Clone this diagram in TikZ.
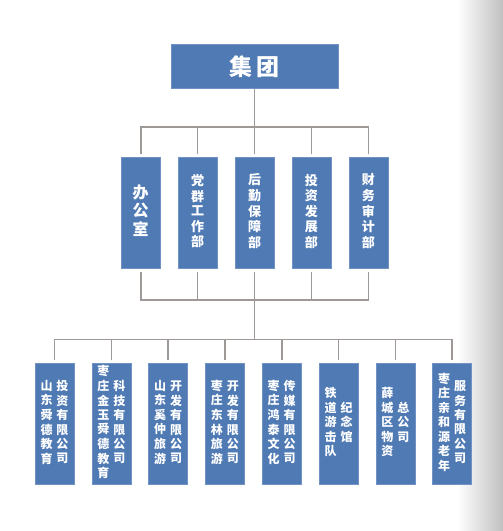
\documentclass[tikz,border=0pt]{standalone}
\usepackage{fontspec}
\newfontfamily\cjk{Noto Sans CJK SC}
\definecolor{boxblue}{HTML}{4F7AB4}
\definecolor{boxedge}{HTML}{7092C4}
\definecolor{linegray}{HTML}{9E9896}
\definecolor{shadowgray}{HTML}{C0C0C0}
\newcommand{\vstk}[1]{\begin{tabular}[c]{@{}c@{}}#1\end{tabular}}
\begin{document}
\begin{tikzpicture}[x=1pt,y=-1pt,
 box/.style={fill=boxblue, draw=boxedge, line width=0.6pt, text=white, inner sep=0pt},
 topbox/.style={box, minimum width=167pt, minimum height=43.5pt, font=\cjk\bfseries\fontsize{23}{26}\selectfont},
 deptbox/.style={box, minimum width=39pt, minimum height=111.5pt, outer ysep=3.5pt, font=\cjk\bfseries\fontsize{13}{14.7}\selectfont},
 cobox/.style={box, minimum width=39pt, minimum height=121pt, outer ysep=3pt, font=\cjk\bfseries\fontsize{12}{14.2}\selectfont},
 conn/.style={draw=linegray, line width=1.6pt}]
\useasboundingbox (0,0) rectangle (503,531);
\fill[white] (0,0) rectangle (503,531);
\shade[left color=white, right color=shadowgray] (457,0) rectangle (503,531);

\node[topbox] (top) at (254.5,66.5) {集\hspace{5pt}团};

\node[deptbox, font=\cjk\bfseries\fontsize{16}{17.5}\selectfont] (d1) at (140.7,212.8) {\vstk{办\\公\\室}};
\node[deptbox] (d2) at (197.6,212.8) {\vstk{党\\群\\工\\作\\部}};
\node[deptbox] (d3) at (254.5,212.8) {\vstk{后\\勤\\保\\障\\部}};
\node[deptbox] (d4) at (311.4,212.8) {\vstk{投\\资\\发\\展\\部}};
\node[deptbox] (d5) at (368.3,212.8) {\vstk{财\\务\\审\\计\\部}};

\node[cobox] (e1) at (54.5,423.8) {\vstk{山\\东\\舜\\德\\教\\育}\hspace{4pt}\vstk{投\\资\\有\\限\\公\\司}};
\node[cobox] (e2) at (111.3,423.8) {\vstk{枣\\庄\\金\\玉\\舜\\德\\教\\育}\hspace{4pt}\vstk{科\\技\\有\\限\\公\\司}};
\node[cobox] (e3) at (168.1,423.8) {\vstk{山\\东\\奚\\仲\\旅\\游}\hspace{4pt}\vstk{开\\发\\有\\限\\公\\司}};
\node[cobox] (e4) at (224.9,423.8) {\vstk{枣\\庄\\东\\林\\旅\\游}\hspace{4pt}\vstk{开\\发\\有\\限\\公\\司}};
\node[cobox] (e5) at (281.7,423.8) {\vstk{枣\\庄\\鸿\\泰\\文\\化}\hspace{4pt}\vstk{传\\媒\\有\\限\\公\\司}};
\node[cobox] (e6) at (338.5,423.8) {\vstk{铁\\道\\游\\击\\队}\hspace{4pt}\vstk{纪\\念\\馆}};
\node[cobox] (e7) at (395.3,423.8) {\vstk{薛\\城\\区\\物\\资}\hspace{4pt}\vstk{总\\公\\司}};
\node[cobox] (e8) at (452.1,423.8) {\vstk{枣\\庄\\亲\\和\\源\\老\\年}\hspace{4pt}\vstk{服\\务\\有\\限\\公\\司}};

\coordinate (j1) at (254.5,127);
\coordinate (j2) at (254.5,300);
\coordinate (j3) at (254.5,339.5);

\draw[conn] (top.south) -- (j1);
\draw[conn] (d1.north) |- (j1) -| (d5.north);
\foreach \n in {d2,d3,d4} \draw[conn] (\n.north) -- (\n.north |- j1);

\draw[conn] (d1.south) |- (j2) -| (d5.south);
\foreach \n in {d2,d3,d4} \draw[conn] (\n.south) -- (\n.south |- j2);
\draw[conn] (j2) -- (j3);

\draw[conn] (e1.north) |- (j3) -| (e8.north);
\foreach \n in {e2,e3,e4,e5,e6,e7} \draw[conn] (\n.north) -- (\n.north |- j3);
\end{tikzpicture}
\end{document}
